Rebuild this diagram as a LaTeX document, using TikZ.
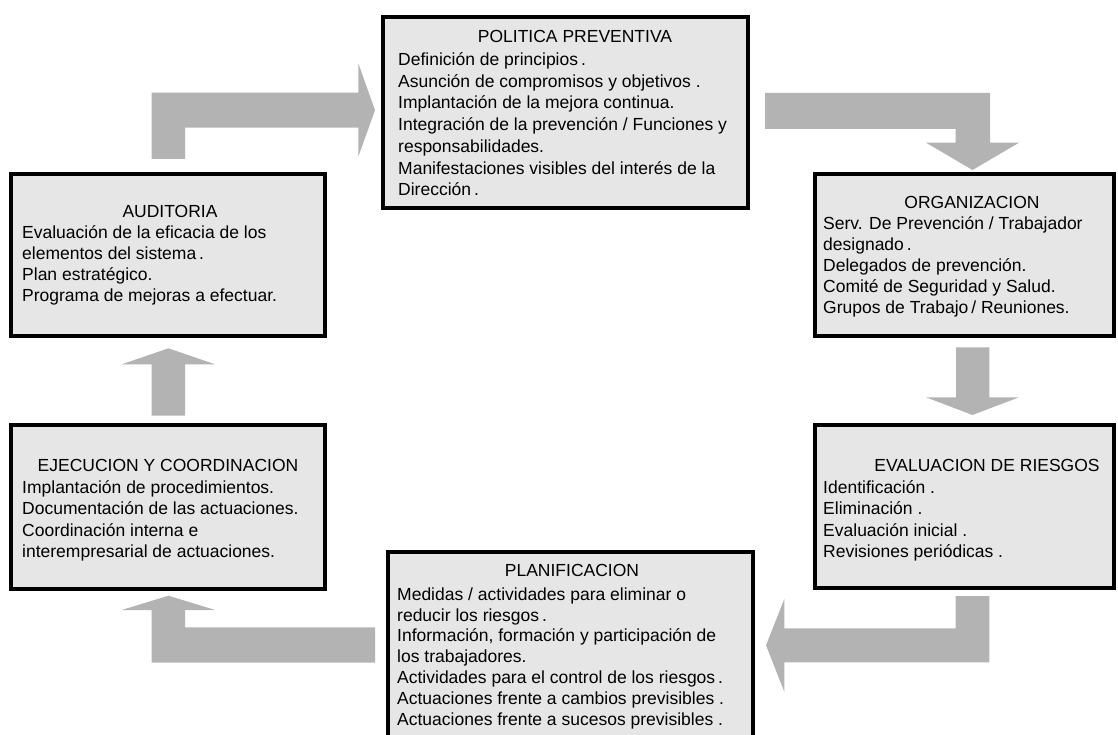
\documentclass[tikz,border=0pt]{standalone}
\usepackage{fontspec}
\setmainfont{Liberation Sans}
\definecolor{boxfill}{RGB}{230,230,230}
\definecolor{arrowgray}{RGB}{179,179,179}
\tikzset{
  panel/.style={draw=black, line width=4pt, fill=boxfill, rectangle,
    inner sep=0pt, outer sep=0pt, anchor=north west},
  blockarrow/.style={fill=arrowgray, draw=none},
  headline/.style={anchor=base, inner sep=0pt, font=\fontsize{17.5}{21}\selectfont},
  bodytext/.style={anchor=north west, inner sep=0pt, align=left,
    font=\fontsize{17.5}{#1}\selectfont},
  bodytext/.default=21
}
\newcommand{\firstline}{\rule{0pt}{15pt}}
\begin{document}
\begin{tikzpicture}[x=1pt,y=-1pt]
\useasboundingbox (0,0) rectangle (1118,735);
\clip (0,0) rectangle (1118,735);

% frames of the six stages
\node[panel, minimum width=364.5pt, minimum height=191pt] (pol) at (383,17) {};
\node[panel, minimum width=313.7pt, minimum height=162pt] (aud) at (11,174) {};
\node[panel, minimum width=299pt, minimum height=162pt] (org) at (815,174) {};
\node[panel, minimum width=299pt, minimum height=163pt] (eva) at (815,425) {};
\node[panel, minimum width=314pt, minimum height=164pt] (eje) at (11,425) {};
\node[panel, minimum width=365pt, minimum height=196pt] (pla) at (388,551.5) {};

% headings
\node[headline] (polT) at (575,42.7) {POLITICA PREVENTIVA};
\node[headline] (audT) at (170,217.7) {AUDITORIA};
\node[headline] (orgT) at (972,208.3) {ORGANIZACION};
\node[headline] (evaT) at (987,471.5) {EVALUACION DE RIESGOS};
\node[headline] (ejeT) at (168,471.7) {EJECUCION Y COORDINACION};
\node[headline] (plaT) at (572,576.7) {PLANIFICACION};

% contents
\node[bodytext=21.75] (polB) at (398,50.3) {\firstline Definición de principios\,.\\
Asunción de compromisos y objetivos .\\
Implantación de la mejora continua.\\
Integración de la prevención / Funciones y\\
responsabilidades.\\
Manifestaciones visibles del interés de la\\
Dirección\,.};

\node[bodytext=21] (audB) at (22,223.3) {\firstline Evaluación de la eficacia de los\\
elementos del sistema\,.\\
Plan estratégico.\\
Programa de mejoras a efectuar.};

\node[bodytext=21] (orgB) at (823,214) {\firstline Serv. De Prevención / Trabajador\\
designado\,.\\
Delegados de prevención.\\
Comité de Seguridad y Salud.\\
Grupos de Trabajo\,/ Reuniones.};

\node[bodytext=21.3] (evaB) at (823,478.3) {\firstline Identificación .\\
Eliminación .\\
Evaluación inicial .\\
Revisiones periódicas .};

\node[bodytext=21.3] (ejeB) at (22,478.3) {\firstline Implantación de procedimientos.\\
Documentación de las actuaciones.\\
Coordinación interna e\\
interempresarial de actuaciones.};

\node[bodytext=20.8] (plaB) at (397,585) {\firstline Medidas / actividades para eliminar o\\
reducir los riesgos\,.\\
Información, formación y participación de\\
los trabajadores.\\
Actividades para el control de los riesgos\,.\\
Actuaciones frente a cambios previsibles .\\
Actuaciones frente a sucesos previsibles .};

% block arrows running clockwise between the stages
% auditoria -> politica
\fill[blockarrow] (151.7,159) -- (151.7,92.7) -- (358.3,92.7) -- (358.3,63.3)
  -- (375,110.2) -- (358.3,156.7) -- (358.3,127.7) -- (185,127.7) -- (185,159) -- cycle;
% politica -> organizacion
\fill[blockarrow] (765,93) -- (990,93) -- (990,142.7) -- (1019,142.7)
  -- (972.5,170) -- (926,142.7) -- (955.5,142.7) -- (955.5,129) -- (765,129) -- cycle;
% organizacion -> evaluacion
\fill[blockarrow] (956,347.3) -- (989.3,347.3) -- (989.3,397.3) -- (1019,397.3)
  -- (972.5,415) -- (926,397.3) -- (956,397.3) -- cycle;
% evaluacion -> planificacion
\fill[blockarrow] (955.7,596) -- (989.3,596) -- (989.3,662.3) -- (784.3,662.3)
  -- (784.3,691.7) -- (766,645.3) -- (784.3,599) -- (784.3,628.3) -- (955.7,628.3) -- cycle;
% planificacion -> ejecucion
\fill[blockarrow] (375,627.3) -- (375,662.7) -- (151.7,662.7) -- (151.7,610)
  -- (121.7,610) -- (168.5,595.7) -- (215,610) -- (185,610) -- (185,627.3) -- cycle;
% ejecucion -> auditoria
\fill[blockarrow] (151.7,415.7) -- (151.7,364.3) -- (121.7,364.3) -- (168.5,348.3)
  -- (215,364.3) -- (185,364.3) -- (185,415.7) -- cycle;
\end{tikzpicture}
\end{document}
